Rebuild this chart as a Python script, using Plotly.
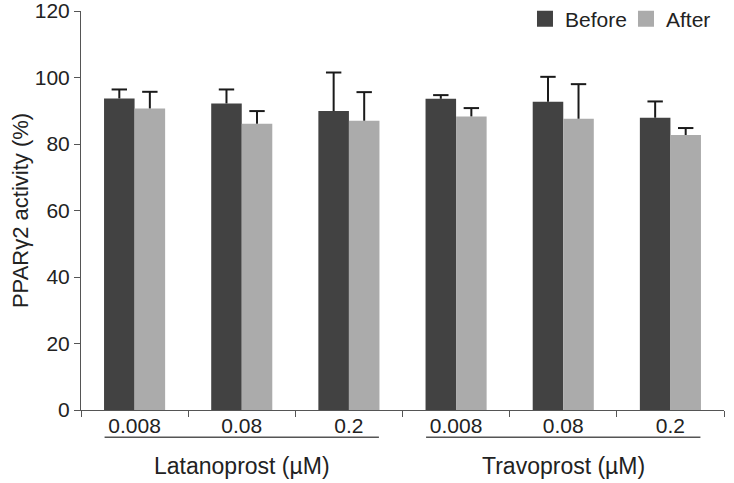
import plotly.graph_objects as go

# doses per drug group (% activity)
doses = ["0.008", "0.08", "0.2", "0.008", "0.08", "0.2"]
groups = ["Latanoprost (µM)", "Travoprost (µM)"]
before = [93.7, 92.2, 89.9, 93.6, 92.7, 87.9]
before_err = [2.7, 4.2, 11.6, 1.1, 7.5, 4.9]
after = [90.7, 86.1, 87.0, 88.3, 87.6, 82.7]
after_err = [5.0, 3.8, 8.6, 2.5, 10.4, 2.1]
y_ticks = [0, 20, 40, 60, 80, 100, 120]

font = "Liberation Sans, Arial, sans-serif"
x = list(range(len(doses)))
bargap = 0.43
half = (1 - bargap) / 4  # offset of each bar centre inside its group

fig = go.Figure()
for name, vals, errs, color, sign in [
    ("Before", before, before_err, "#424242", -1),
    ("After", after, after_err, "#ababab", 1),
]:
    fig.add_trace(go.Bar(
        x=x, y=vals, name=name, marker_color=color, marker_line_width=0,
        showlegend=False,
        error_y=dict(type="data", symmetric=False, array=errs,
                     arrayminus=[0] * len(x), color="#1a1a1a",
                     thickness=2, width=0),
    ))
    # caps only on the top end of the error bars
    fig.add_trace(go.Scatter(
        x=[i + sign * half for i in x],
        y=[v + e for v, e in zip(vals, errs)],
        mode="markers", showlegend=False, hoverinfo="skip",
        marker=dict(symbol="line-ew", size=11,
                    line=dict(color="#1a1a1a", width=2)),
    ))
    # legend entry with a bigger square
    fig.add_trace(go.Scatter(
        x=[None], y=[None], mode="markers", name=name,
        marker=dict(symbol="square", size=18, color=color),
    ))

# group labels with underline below the dose ticks
n = len(doses) // len(groups)
for i, g in enumerate(groups):
    lo, hi = i * n - 0.28, i * n + n - 1 + 0.28
    fig.add_shape(type="line", xref="x", yref="paper",
                  x0=lo, x1=hi, y0=-0.068, y1=-0.068,
                  line=dict(color="#555555", width=1.5))
    fig.add_annotation(x=i * n + (n - 1) / 2, y=-0.14, xref="x", yref="paper",
                       text=g, showarrow=False, yanchor="middle",
                       font=dict(family=font, size=23, color="#222222"))

fig.update_layout(
    width=734, height=483,
    margin=dict(l=81, r=10, t=11, b=73, autoexpand=False),
    plot_bgcolor="white", paper_bgcolor="white",
    barmode="group", bargap=bargap, bargroupgap=0,
    font=dict(family=font, size=21, color="#222222"),
    legend=dict(orientation="h", x=0.6905, xanchor="left", y=0.98,
                yanchor="middle", font=dict(size=21), entrywidth=56,
                bgcolor="rgba(0,0,0,0)"),
    xaxis=dict(
        range=[-0.5, len(doses) - 0.5], automargin=False,
        tickvals=x, ticktext=doses, ticks="", ticklabelstandoff=-3,
        showline=True, linecolor="#555555", linewidth=1,
        showgrid=False, zeroline=False,
        minor=dict(tickmode="linear", tick0=-0.5, dtick=1, ticks="outside",
                   ticklen=6, tickcolor="#555555", showgrid=False),
    ),
    yaxis=dict(
        range=[0, 120], tickvals=y_ticks, automargin=False,
        ticklabeloverflow="allow",
        ticks="outside", ticklen=6, tickcolor="#555555",
        showline=True, linecolor="#555555", linewidth=1,
        showgrid=False, zeroline=False,
        title=dict(text="PPARγ2 activity (%)", font=dict(size=22), standoff=0),
    ),
)

# drop the default page margin so the figure sits at the window corner
fig.write_html("out.html", config={"displayModeBar": False},
               post_script="document.body.style.margin = '0';")
